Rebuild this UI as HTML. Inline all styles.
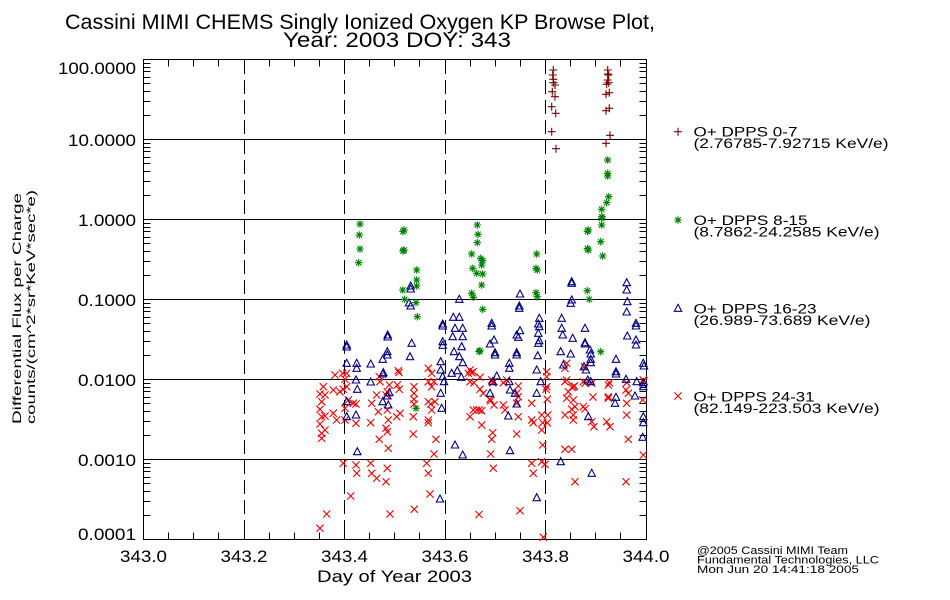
<!DOCTYPE html>
<html><head><meta charset="utf-8"><style>
html,body{margin:0;padding:0;background:#fff;}
svg{display:block;}
text{font-family:"DejaVu Sans ExtraLight","Liberation Sans",sans-serif;font-weight:200;fill:#000;}
</style></head><body>
<svg width="950" height="600" viewBox="0 0 950 600" xmlns="http://www.w3.org/2000/svg">
<defs>
<path id="p" d="M-4,0H4M0,-4V4" stroke="#7a0000" stroke-width="1.1" fill="none"/>
<path id="s" d="M-3.8,0H3.8M0,-3.8V3.8M-2.7,-2.7L2.7,2.7M-2.7,2.7L2.7,-2.7" stroke="#008000" stroke-width="1.1" fill="none"/>
<path id="t" d="M-3.7,3L3.7,3L0,-4Z" stroke="#000080" stroke-width="1.1" fill="none"/>
<path id="x" d="M-3.6,-3.6L3.6,3.6M-3.6,3.6L3.6,-3.6" stroke="#f00000" stroke-width="1.1" fill="none"/>
</defs>

<!-- Title -->
<text x="65" y="29" font-size="21" textLength="590" lengthAdjust="spacingAndGlyphs">Cassini MIMI CHEMS Singly Ionized Oxygen KP Browse Plot,</text>
<text x="283" y="47" font-size="21" textLength="228" lengthAdjust="spacingAndGlyphs">Year: 2003 DOY: 343</text>

<!-- grid lines -->
<g stroke="#000" stroke-width="1" shape-rendering="crispEdges" fill="none">
<path d="M143.5,139.5H646.5M143.5,219.5H646.5M143.5,299.5H646.5M143.5,379.5H646.5M143.5,459.5H646.5"/>
<path d="M244.5,60V539M344.5,60V539M445.5,60V539M545.5,60V539" stroke-dasharray="14 6"/>
<rect x="143.5" y="59.5" width="503" height="480"/>
<path d="M143.5,115.5h7M143.5,101.5h7M143.5,91.5h7M143.5,83.5h7M143.5,77.5h7M143.5,71.5h7M143.5,67.5h7M143.5,63.5h7
M143.5,195.5h7M143.5,181.5h7M143.5,171.5h7M143.5,163.5h7M143.5,157.5h7M143.5,151.5h7M143.5,147.5h7M143.5,143.5h7
M143.5,275.5h7M143.5,261.5h7M143.5,251.5h7M143.5,243.5h7M143.5,237.5h7M143.5,231.5h7M143.5,227.5h7M143.5,223.5h7
M143.5,355.5h7M143.5,341.5h7M143.5,331.5h7M143.5,323.5h7M143.5,317.5h7M143.5,311.5h7M143.5,307.5h7M143.5,303.5h7
M143.5,435.5h7M143.5,421.5h7M143.5,411.5h7M143.5,403.5h7M143.5,397.5h7M143.5,391.5h7M143.5,387.5h7M143.5,383.5h7
M143.5,515.5h7M143.5,501.5h7M143.5,491.5h7M143.5,483.5h7M143.5,477.5h7M143.5,471.5h7M143.5,467.5h7M143.5,463.5h7"/>
<path d="M646.5,115.5h-7M646.5,101.5h-7M646.5,91.5h-7M646.5,83.5h-7M646.5,77.5h-7M646.5,71.5h-7M646.5,67.5h-7M646.5,63.5h-7
M646.5,195.5h-7M646.5,181.5h-7M646.5,171.5h-7M646.5,163.5h-7M646.5,157.5h-7M646.5,151.5h-7M646.5,147.5h-7M646.5,143.5h-7
M646.5,275.5h-7M646.5,261.5h-7M646.5,251.5h-7M646.5,243.5h-7M646.5,237.5h-7M646.5,231.5h-7M646.5,227.5h-7M646.5,223.5h-7
M646.5,355.5h-7M646.5,341.5h-7M646.5,331.5h-7M646.5,323.5h-7M646.5,317.5h-7M646.5,311.5h-7M646.5,307.5h-7M646.5,303.5h-7
M646.5,435.5h-7M646.5,421.5h-7M646.5,411.5h-7M646.5,403.5h-7M646.5,397.5h-7M646.5,391.5h-7M646.5,387.5h-7M646.5,383.5h-7
M646.5,515.5h-7M646.5,501.5h-7M646.5,491.5h-7M646.5,483.5h-7M646.5,477.5h-7M646.5,471.5h-7M646.5,467.5h-7M646.5,463.5h-7"/>
<path d="M168.5,539.5v-7M193.5,539.5v-7M218.5,539.5v-7M244.5,539.5v-7M269.5,539.5v-7M294.5,539.5v-7M319.5,539.5v-7M344.5,539.5v-7M369.5,539.5v-7M394.5,539.5v-7M419.5,539.5v-7M445.5,539.5v-7M470.5,539.5v-7M495.5,539.5v-7M520.5,539.5v-7M545.5,539.5v-7M570.5,539.5v-7M595.5,539.5v-7M620.5,539.5v-7
M168.5,59.5v7M193.5,59.5v7M218.5,59.5v7M244.5,59.5v7M269.5,59.5v7M294.5,59.5v7M319.5,59.5v7M344.5,59.5v7M369.5,59.5v7M394.5,59.5v7M419.5,59.5v7M445.5,59.5v7M470.5,59.5v7M495.5,59.5v7M520.5,59.5v7M545.5,59.5v7M570.5,59.5v7M595.5,59.5v7M620.5,59.5v7"/>
</g>

<!-- Y tick labels -->
<g font-size="17">
<text x="58" y="74" textLength="78" lengthAdjust="spacingAndGlyphs">100.0000</text>
<text x="68" y="146" textLength="68" lengthAdjust="spacingAndGlyphs">10.0000</text>
<text x="78" y="226" textLength="58" lengthAdjust="spacingAndGlyphs">1.0000</text>
<text x="78" y="306" textLength="58" lengthAdjust="spacingAndGlyphs">0.1000</text>
<text x="78" y="386" textLength="58" lengthAdjust="spacingAndGlyphs">0.0100</text>
<text x="78" y="466" textLength="58" lengthAdjust="spacingAndGlyphs">0.0010</text>
<text x="78" y="540" textLength="58" lengthAdjust="spacingAndGlyphs">0.0001</text>
<text x="120" y="562" textLength="47" lengthAdjust="spacingAndGlyphs">343.0</text>
<text x="220.5" y="562" textLength="47" lengthAdjust="spacingAndGlyphs">343.2</text>
<text x="321" y="562" textLength="47" lengthAdjust="spacingAndGlyphs">343.4</text>
<text x="421.5" y="562" textLength="47" lengthAdjust="spacingAndGlyphs">343.6</text>
<text x="522" y="562" textLength="47" lengthAdjust="spacingAndGlyphs">343.8</text>
<text x="622.5" y="562" textLength="47" lengthAdjust="spacingAndGlyphs">344.0</text>
<text x="317" y="582" textLength="155" lengthAdjust="spacingAndGlyphs">Day of Year 2003</text>
</g>

<!-- Y axis title -->
<text transform="translate(21,424) rotate(-90)" font-size="12" textLength="231" lengthAdjust="spacingAndGlyphs">Differential Flux per Charge</text>
<text transform="translate(35,424) rotate(-90)" font-size="12" textLength="234" lengthAdjust="spacingAndGlyphs">counts/(cm^2*sr*KeV*sec*e)</text>

<!-- Legend -->
<use href="#p" x="678" y="131.7"/>
<use href="#s" x="678" y="220"/>
<use href="#t" x="678" y="308.3"/>
<use href="#x" x="678" y="396"/>
<g font-size="13.5">
<text x="693.5" y="136.7" textLength="104" lengthAdjust="spacingAndGlyphs">O+ DPPS 0-7</text>
<text x="693.5" y="148" textLength="195" lengthAdjust="spacingAndGlyphs">(2.76785-7.92715 KeV/e)</text>
<text x="693.5" y="225" textLength="114" lengthAdjust="spacingAndGlyphs">O+ DPPS 8-15</text>
<text x="693.5" y="236.5" textLength="186" lengthAdjust="spacingAndGlyphs">(8.7862-24.2585 KeV/e)</text>
<text x="693.5" y="313.3" textLength="123" lengthAdjust="spacingAndGlyphs">O+ DPPS 16-23</text>
<text x="693.5" y="324.8" textLength="177" lengthAdjust="spacingAndGlyphs">(26.989-73.689 KeV/e)</text>
<text x="693.5" y="401.5" textLength="121" lengthAdjust="spacingAndGlyphs">O+ DPPS 24-31</text>
<text x="693.5" y="413" textLength="186" lengthAdjust="spacingAndGlyphs">(82.149-223.503 KeV/e)</text>
</g>

<!-- Footer -->
<g font-size="11">
<text x="697" y="554" textLength="151" lengthAdjust="spacingAndGlyphs">@2005 Cassini MIMI Team</text>
<text x="697" y="563.5" textLength="182" lengthAdjust="spacingAndGlyphs">Fundamental Technologies, LLC</text>
<text x="697" y="573" textLength="162" lengthAdjust="spacingAndGlyphs">Mon Jun 20 14:41:18 2005</text>
</g>

<!-- Red x (DPPS 24-31) -->
<g>
<use href="#x" x="335" y="375"/><use href="#x" x="342.7" y="373.3"/><use href="#x" x="346.7" y="373.3"/><use href="#x" x="345" y="379.3"/>
<use href="#x" x="323.3" y="386.7"/><use href="#x" x="333.3" y="390"/><use href="#x" x="343.3" y="389.3"/><use href="#x" x="346.7" y="386.7"/><use href="#x" x="340" y="391.7"/>
<use href="#x" x="320" y="394"/><use href="#x" x="325" y="395"/><use href="#x" x="321.7" y="401.7"/><use href="#x" x="320" y="409.3"/>
<use href="#x" x="348.3" y="400"/><use href="#x" x="356" y="404"/><use href="#x" x="345" y="408.3"/><use href="#x" x="353.3" y="403.3"/>
<use href="#x" x="333.3" y="413.3"/><use href="#x" x="336.7" y="420"/><use href="#x" x="325" y="416"/><use href="#x" x="345" y="420"/><use href="#x" x="356" y="423.3"/>
<use href="#x" x="320" y="424"/><use href="#x" x="325" y="430"/><use href="#x" x="321.7" y="438.3"/><use href="#x" x="321.7" y="416.7"/><use href="#x" x="321.7" y="433.3"/>
<use href="#x" x="371.7" y="403.3"/><use href="#x" x="370.7" y="422.7"/>
<use href="#x" x="379.3" y="376.7"/><use href="#x" x="380" y="381.7"/><use href="#x" x="389.3" y="385"/><use href="#x" x="398.3" y="370.7"/><use href="#x" x="399" y="372.5"/><use href="#x" x="397.3" y="385"/><use href="#x" x="399.3" y="389.3"/><use href="#x" x="387.3" y="391.7"/><use href="#x" x="386" y="395"/>
<use href="#x" x="376.7" y="395"/><use href="#x" x="378.3" y="411.7"/><use href="#x" x="387.3" y="410"/><use href="#x" x="388.3" y="420"/><use href="#x" x="396.7" y="416.7"/><use href="#x" x="400" y="413.3"/>
<use href="#x" x="386" y="428.3"/><use href="#x" x="387.3" y="431.7"/><use href="#x" x="379.3" y="439.3"/><use href="#x" x="388.3" y="448.3"/>
<use href="#x" x="414" y="386.7"/><use href="#x" x="414" y="393.3"/><use href="#x" x="414" y="399.3"/><use href="#x" x="414" y="404"/><use href="#x" x="413.3" y="416.7"/><use href="#x" x="413.3" y="434"/>
<use href="#x" x="428.3" y="368.3"/><use href="#x" x="431.7" y="373.3"/><use href="#x" x="428.3" y="381.7"/><use href="#x" x="434" y="381.7"/><use href="#x" x="431.7" y="386.7"/>
<use href="#x" x="428.3" y="401.7"/><use href="#x" x="430.7" y="404"/><use href="#x" x="435" y="401.7"/><use href="#x" x="431.7" y="410"/><use href="#x" x="428.3" y="420"/><use href="#x" x="428.3" y="422.7"/>
<use href="#x" x="436" y="439.3"/><use href="#x" x="434" y="454"/>
<use href="#x" x="470" y="370"/><use href="#x" x="468.3" y="373.3"/><use href="#x" x="473.3" y="371.7"/><use href="#x" x="471.7" y="372.7"/>
<use href="#x" x="470" y="381.7"/><use href="#x" x="473.3" y="410"/><use href="#x" x="470" y="416.7"/><use href="#x" x="479.3" y="410"/>
<use href="#x" x="343.3" y="463.3"/><use href="#x" x="356" y="465"/><use href="#x" x="356.7" y="473.3"/><use href="#x" x="370.7" y="463.3"/><use href="#x" x="371.7" y="473.3"/><use href="#x" x="376.7" y="478.3"/><use href="#x" x="386" y="481.7"/><use href="#x" x="387.3" y="468.3"/><use href="#x" x="426.7" y="463.3"/><use href="#x" x="428.3" y="473.3"/>
<use href="#x" x="350.7" y="496"/><use href="#x" x="430" y="494"/>
<use href="#x" x="326.7" y="514"/><use href="#x" x="390" y="514"/><use href="#x" x="414.3" y="509.3"/><use href="#x" x="479" y="514.5"/>
<use href="#x" x="320" y="528.3"/>
<use href="#x" x="480" y="377.3"/><use href="#x" x="474" y="382.7"/><use href="#x" x="480" y="389.3"/><use href="#x" x="483.3" y="393.3"/>
<use href="#x" x="491.7" y="380"/><use href="#x" x="492.7" y="382.7"/><use href="#x" x="494" y="381.7"/><use href="#x" x="490" y="399.3"/><use href="#x" x="490.7" y="400.7"/>
<use href="#x" x="503.3" y="382.7"/><use href="#x" x="506.7" y="380"/>
<use href="#x" x="518.3" y="386"/><use href="#x" x="516.7" y="393.3"/><use href="#x" x="518.3" y="396.7"/><use href="#x" x="516.7" y="403.3"/>
<use href="#x" x="503.3" y="405"/><use href="#x" x="505" y="410"/><use href="#x" x="494" y="405"/>
<use href="#x" x="476.7" y="410"/><use href="#x" x="481.7" y="410.7"/><use href="#x" x="481.7" y="425"/><use href="#x" x="518.3" y="416.7"/><use href="#x" x="492.7" y="432.7"/><use href="#x" x="491.7" y="439.3"/><use href="#x" x="516.7" y="434"/><use href="#x" x="490.7" y="454"/><use href="#x" x="493.3" y="468.3"/><use href="#x" x="520" y="510.7"/>
<use href="#x" x="531.7" y="403.3"/><use href="#x" x="531.7" y="420"/><use href="#x" x="533.3" y="422.7"/><use href="#x" x="541.7" y="415"/><use href="#x" x="542.7" y="422.7"/><use href="#x" x="547.3" y="422.7"/><use href="#x" x="541.7" y="430"/><use href="#x" x="542.7" y="445"/><use href="#x" x="531.7" y="463.3"/><use href="#x" x="533.3" y="473.3"/><use href="#x" x="545" y="464.3"/><use href="#x" x="541.7" y="461.7"/>
<use href="#x" x="546.7" y="371.7"/><use href="#x" x="546.7" y="376.7"/><use href="#x" x="546.7" y="386.7"/><use href="#x" x="546" y="389.3"/><use href="#x" x="547.3" y="399.3"/><use href="#x" x="547.7" y="415"/><use href="#x" x="543.3" y="537.3"/>
<use href="#x" x="566.7" y="363.3"/><use href="#x" x="565" y="368.3"/><use href="#x" x="566.7" y="380"/><use href="#x" x="573.3" y="386.7"/><use href="#x" x="572" y="387.5"/><use href="#x" x="574.5" y="386"/><use href="#x" x="565" y="381.7"/><use href="#x" x="568.3" y="391.7"/><use href="#x" x="566.7" y="398.3"/>
<use href="#x" x="573.3" y="400"/><use href="#x" x="575" y="406.7"/><use href="#x" x="571.7" y="409.3"/><use href="#x" x="565" y="415"/><use href="#x" x="573.3" y="415"/><use href="#x" x="573.3" y="420"/><use href="#x" x="565" y="449.3"/><use href="#x" x="571.7" y="449.3"/><use href="#x" x="575" y="481.7"/>
<use href="#x" x="583.3" y="381.7"/><use href="#x" x="585" y="383.3"/><use href="#x" x="591.7" y="383.3"/><use href="#x" x="584.3" y="366.7"/><use href="#x" x="583.3" y="406.7"/><use href="#x" x="585" y="409"/><use href="#x" x="591.7" y="421.7"/><use href="#x" x="594" y="426.7"/><use href="#x" x="593" y="397"/>
<use href="#x" x="609.3" y="382.7"/><use href="#x" x="608.3" y="385"/><use href="#x" x="608.3" y="396.7"/><use href="#x" x="608.3" y="398.3"/><use href="#x" x="606.7" y="421.7"/><use href="#x" x="610" y="426.7"/>
<use href="#x" x="626.7" y="382.7"/><use href="#x" x="626" y="390"/><use href="#x" x="628.3" y="393.3"/><use href="#x" x="626.7" y="403.3"/><use href="#x" x="626.7" y="415"/><use href="#x" x="628.3" y="439.3"/><use href="#x" x="626" y="481.7"/>
<use href="#x" x="643.3" y="380"/><use href="#x" x="644" y="381"/><use href="#x" x="642.7" y="400"/><use href="#x" x="643.3" y="455"/>
</g>

<!-- Navy triangles (DPPS 16-23) -->
<g>
<use href="#t" x="346.7" y="345"/><use href="#t" x="346.7" y="347"/><use href="#t" x="346.7" y="363.3"/><use href="#t" x="356.7" y="363.3"/><use href="#t" x="356.7" y="368.3"/><use href="#t" x="370.7" y="364"/><use href="#t" x="356" y="380"/><use href="#t" x="357.3" y="389.3"/><use href="#t" x="370.7" y="382"/><use href="#t" x="346.7" y="401.7"/><use href="#t" x="346.7" y="416.7"/><use href="#t" x="356" y="415"/><use href="#t" x="357.3" y="451.7"/>
<use href="#t" x="387.7" y="335"/><use href="#t" x="387.7" y="337"/><use href="#t" x="387.3" y="351.7"/><use href="#t" x="387.3" y="355"/><use href="#t" x="382.7" y="359.3"/><use href="#t" x="383.3" y="372.7"/><use href="#t" x="382.7" y="374"/><use href="#t" x="389.3" y="392.7"/><use href="#t" x="387.3" y="396"/><use href="#t" x="382.7" y="401.7"/><use href="#t" x="388.3" y="405"/>
<use href="#t" x="411.7" y="343.3"/><use href="#t" x="410" y="356.7"/><use href="#t" x="410.7" y="286"/><use href="#t" x="410.7" y="289"/><use href="#t" x="410.7" y="306"/><use href="#t" x="409" y="303"/>
<use href="#t" x="442.7" y="324"/><use href="#t" x="442.7" y="326"/><use href="#t" x="442.7" y="341.7"/><use href="#t" x="442.7" y="345.3"/><use href="#t" x="440.7" y="361.7"/><use href="#t" x="440.7" y="370"/><use href="#t" x="442.7" y="376.7"/><use href="#t" x="444" y="381.7"/><use href="#t" x="440.7" y="393.3"/><use href="#t" x="441.7" y="408.3"/><use href="#t" x="440" y="499"/>
<use href="#t" x="459.3" y="299.3"/><use href="#t" x="453.3" y="317.3"/><use href="#t" x="459.3" y="317.3"/><use href="#t" x="455" y="328.3"/><use href="#t" x="462.7" y="328.3"/><use href="#t" x="452.7" y="336.7"/><use href="#t" x="462.7" y="336.7"/><use href="#t" x="461.7" y="346.7"/><use href="#t" x="454" y="351.7"/><use href="#t" x="459.3" y="356.7"/><use href="#t" x="462.7" y="362.7"/><use href="#t" x="451.7" y="373.3"/><use href="#t" x="457.3" y="370.7"/><use href="#t" x="461.3" y="377.3"/><use href="#t" x="455" y="445"/><use href="#t" x="462.7" y="455"/>
<use href="#t" x="520" y="294"/><use href="#t" x="519.3" y="306"/><use href="#t" x="519.3" y="308.3"/><use href="#t" x="491.7" y="323.3"/><use href="#t" x="491.7" y="326"/><use href="#t" x="520" y="330.7"/><use href="#t" x="516.7" y="335"/><use href="#t" x="518.3" y="337.3"/><use href="#t" x="494" y="340"/><use href="#t" x="490" y="344"/><use href="#t" x="495" y="352.7"/><use href="#t" x="495" y="355"/><use href="#t" x="516.7" y="352.7"/><use href="#t" x="516.7" y="355"/><use href="#t" x="509.3" y="363.3"/><use href="#t" x="509.3" y="368.3"/><use href="#t" x="496.7" y="376"/><use href="#t" x="492.7" y="381.7"/><use href="#t" x="509.3" y="381.7"/><use href="#t" x="510" y="390"/><use href="#t" x="515" y="393.3"/><use href="#t" x="490" y="393.3"/><use href="#t" x="516.7" y="404"/><use href="#t" x="508.3" y="416"/><use href="#t" x="510" y="450.7"/>
<use href="#t" x="539.3" y="318.3"/><use href="#t" x="538.3" y="324"/><use href="#t" x="539.3" y="326.7"/><use href="#t" x="538.3" y="333.3"/><use href="#t" x="539.3" y="340.7"/><use href="#t" x="538.3" y="343.3"/><use href="#t" x="537.7" y="355.7"/><use href="#t" x="536.7" y="370"/><use href="#t" x="540.7" y="381.7"/><use href="#t" x="536.7" y="393.3"/><use href="#t" x="536.7" y="497.7"/>
<use href="#t" x="571.7" y="281.7"/><use href="#t" x="571.7" y="283.3"/><use href="#t" x="571.7" y="300"/><use href="#t" x="570.7" y="303.3"/><use href="#t" x="561.7" y="318.3"/><use href="#t" x="561.7" y="328.3"/><use href="#t" x="562.7" y="335"/><use href="#t" x="572.7" y="338.3"/><use href="#t" x="560.7" y="351.7"/><use href="#t" x="570.7" y="354"/><use href="#t" x="563.3" y="365"/>
<use href="#t" x="585" y="328.3"/><use href="#t" x="585" y="342.7"/><use href="#t" x="585" y="344"/><use href="#t" x="590" y="350"/><use href="#t" x="590.7" y="354"/><use href="#t" x="590.7" y="359.3"/><use href="#t" x="590.7" y="362.7"/><use href="#t" x="586" y="370"/><use href="#t" x="584" y="366.7"/><use href="#t" x="590.7" y="381.7"/><use href="#t" x="587.7" y="380"/><use href="#t" x="588.3" y="416.7"/><use href="#t" x="560.7" y="461.7"/><use href="#t" x="591.7" y="473.3"/>
<use href="#t" x="626.7" y="282.7"/><use href="#t" x="626.7" y="290"/><use href="#t" x="627.3" y="301.7"/><use href="#t" x="626.7" y="312"/><use href="#t" x="636" y="323.3"/><use href="#t" x="636" y="326"/><use href="#t" x="627.3" y="336"/><use href="#t" x="636" y="340"/><use href="#t" x="636" y="345"/><use href="#t" x="616" y="359.3"/><use href="#t" x="616" y="371.7"/><use href="#t" x="616" y="374"/><use href="#t" x="626" y="379.3"/><use href="#t" x="636.7" y="381.7"/><use href="#t" x="635" y="396"/><use href="#t" x="616" y="397.3"/><use href="#t" x="615" y="403.3"/>
<use href="#t" x="643.3" y="363.3"/><use href="#t" x="644" y="366"/><use href="#t" x="643.3" y="382.7"/><use href="#t" x="643.3" y="386.7"/><use href="#t" x="643.3" y="416.7"/><use href="#t" x="643.3" y="422.7"/><use href="#t" x="642.7" y="437.3"/>
</g>

<!-- Green stars (DPPS 8-15) -->
<g>
<use href="#s" x="360" y="224"/><use href="#s" x="359.3" y="235"/><use href="#s" x="360" y="249"/><use href="#s" x="358.7" y="262.7"/>
<use href="#s" x="404" y="230"/><use href="#s" x="403" y="231.5"/><use href="#s" x="404" y="250"/><use href="#s" x="403" y="251"/>
<use href="#s" x="416.7" y="270"/><use href="#s" x="416.7" y="280"/><use href="#s" x="416.7" y="286"/><use href="#s" x="402.7" y="290"/><use href="#s" x="404.7" y="299.3"/><use href="#s" x="416" y="302.7"/><use href="#s" x="417.3" y="316.7"/><use href="#s" x="416" y="408.3"/>
<use href="#s" x="477.3" y="225"/><use href="#s" x="478" y="234.3"/><use href="#s" x="477.3" y="242.7"/><use href="#s" x="471.7" y="254"/><use href="#s" x="480.7" y="258.3"/><use href="#s" x="482.7" y="260.7"/><use href="#s" x="481.7" y="265"/><use href="#s" x="472.7" y="268.3"/><use href="#s" x="476.7" y="273.3"/><use href="#s" x="482.7" y="274"/><use href="#s" x="481.7" y="285"/><use href="#s" x="471.7" y="293.3"/><use href="#s" x="473.3" y="297.3"/><use href="#s" x="482.7" y="309.3"/><use href="#s" x="480" y="350.7"/><use href="#s" x="479" y="351.5"/>
<use href="#s" x="536.7" y="254"/><use href="#s" x="536" y="268.3"/><use href="#s" x="537.3" y="270"/><use href="#s" x="536" y="292.7"/><use href="#s" x="537.3" y="296.7"/>
<use href="#s" x="606.7" y="202.7"/><use href="#s" x="601.7" y="209.3"/><use href="#s" x="601.7" y="218.3"/><use href="#s" x="601.7" y="225"/><use href="#s" x="588.3" y="230"/><use href="#s" x="587.5" y="231.5"/><use href="#s" x="588.3" y="250"/><use href="#s" x="587.5" y="248.5"/><use href="#s" x="600.7" y="241.7"/><use href="#s" x="602.7" y="256"/><use href="#s" x="587.3" y="290.7"/><use href="#s" x="589.3" y="299.3"/><use href="#s" x="600.7" y="351.7"/>
<use href="#s" x="607.7" y="160"/><use href="#s" x="607.7" y="173.3"/><use href="#s" x="607.7" y="176"/><use href="#s" x="608.7" y="196.7"/><use href="#s" x="602" y="216.7"/>
</g>

<!-- Dark red plus (DPPS 0-7) -->
<g>
<use href="#p" x="553.3" y="70"/><use href="#p" x="552.7" y="75"/><use href="#p" x="553.3" y="79.3"/><use href="#p" x="553.3" y="82.7"/><use href="#p" x="555" y="85"/><use href="#p" x="552.3" y="91.7"/><use href="#p" x="555" y="96.7"/><use href="#p" x="551.7" y="106.7"/><use href="#p" x="555.7" y="113.3"/><use href="#p" x="551.7" y="131.7"/><use href="#p" x="556" y="148.7"/>
<use href="#p" x="607.7" y="70"/><use href="#p" x="607.7" y="74"/><use href="#p" x="608.7" y="75"/><use href="#p" x="607.7" y="80"/><use href="#p" x="606.7" y="84.3"/><use href="#p" x="608.7" y="82.7"/><use href="#p" x="606" y="94.3"/><use href="#p" x="609.3" y="92.7"/><use href="#p" x="606" y="110.7"/><use href="#p" x="609.3" y="108.3"/><use href="#p" x="610" y="135.3"/><use href="#p" x="606" y="143.3"/>
</g>
</svg>
</body></html>
